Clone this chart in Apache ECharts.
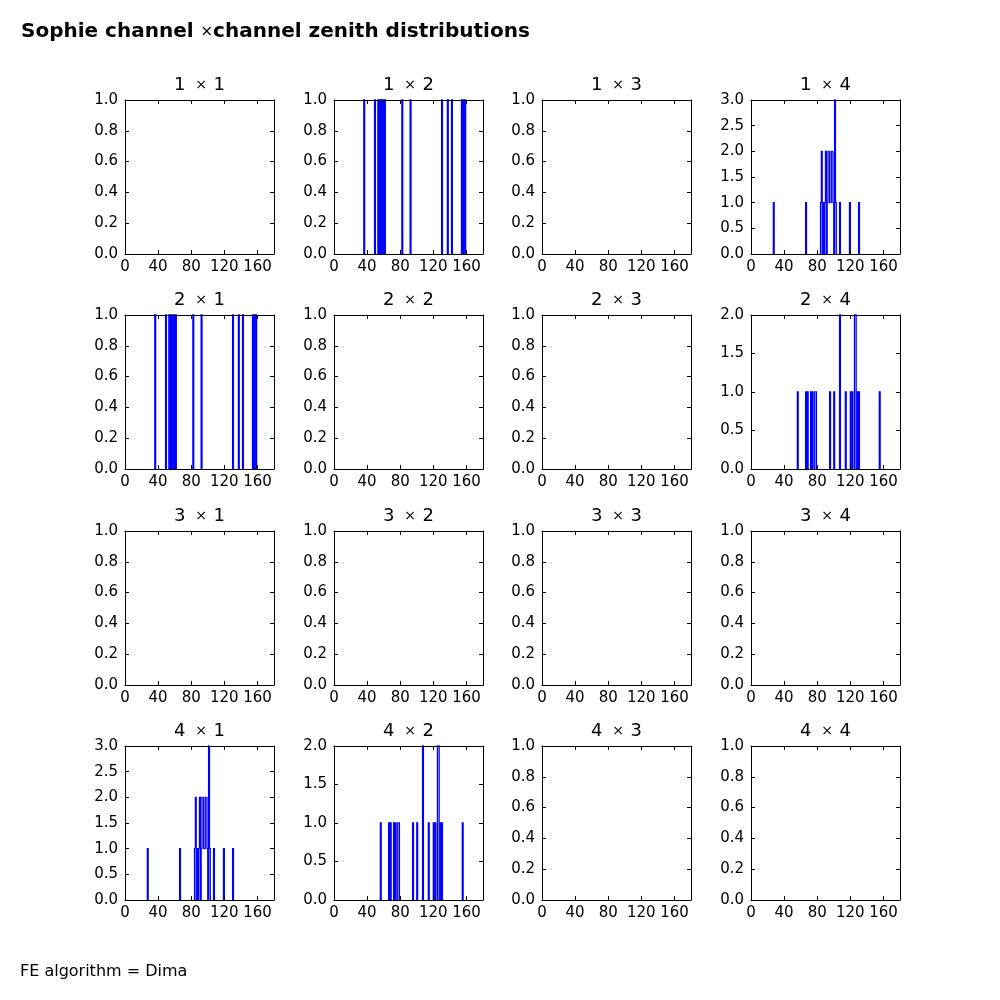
<!DOCTYPE html>
<html>
<head>
<meta charset="utf-8">
<script src="https://cdn.jsdelivr.net/npm/echarts@6/dist/echarts.min.js"></script>
<style>
html,body{margin:0;padding:0;background:#fff;}
#chart{width:1000px;height:1000px;}
</style>
</head>
<body>
<div id="chart"></div>
<script>
// ---- data ----
const channels = [1, 2, 3, 4];
const xTicks = [0, 40, 80, 120, 160];
const xMax = 180;            // zenith range (degrees), 1-degree bins
const yMaxes = [[1, 1, 1, 3], [1, 1, 1, 2], [1, 1, 1, 1], [3, 2, 1, 1]];
const yIntervals = [[0.2, 0.2, 0.2, 0.5], [0.2, 0.2, 0.2, 0.5], [0.2, 0.2, 0.2, 0.2], [0.5, 0.5, 0.2, 0.2]];

// histogram entries: bin start angle (deg) and count
const bins_1x2 = [36, 49, 53, 55, 57, 59, 61, 82, 92, 130, 137, 142, 154, 156, 158];
const counts_1x2 = [1, 1, 1, 1, 1, 1, 1, 1, 1, 1, 1, 1, 1, 1, 1];
const bins_1x4 = [27, 66, 84, 85, 87, 89, 90, 92, 93, 94, 95, 96, 97, 98, 99, 101, 102, 107, 119, 130];
const counts_1x4 = [1, 1, 1, 2, 1, 1, 2, 1, 2, 2, 1, 1, 2, 2, 1, 3, 1, 1, 1, 1];
const bins_2x4 = [56, 66, 68, 72, 74, 77, 78, 95, 100, 107, 114, 120, 122, 125, 126, 128, 130, 155];
const counts_2x4 = [1, 1, 1, 1, 1, 1, 1, 1, 1, 2, 1, 1, 1, 2, 2, 1, 1, 1];

const panelData = {
  '1x2': [bins_1x2, counts_1x2],
  '2x1': [bins_1x2, counts_1x2],
  '1x4': [bins_1x4, counts_1x4],
  '4x1': [bins_1x4, counts_1x4],
  '2x4': [bins_2x4, counts_2x4],
  '4x2': [bins_2x4, counts_2x4]
};

// ---- layout ----
const lefts = [125, 334, 542, 751];
const tops = [100, 315, 531, 746];
const W = 149, H = 154;
const FONT = 'DejaVu Sans';

// one item per non-empty bin: [binStart, count, prevCount, nextCount]
function histItems(bins, counts) {
  const c = new Array(xMax).fill(0);
  bins.forEach((b, i) => { c[b] += counts[i]; });
  const items = [];
  for (let i = 0; i < xMax; i++) {
    if (c[i] <= 0) continue;
    items.push([i, c[i], i > 0 ? c[i - 1] : 0, i < xMax - 1 ? c[i + 1] : 0]);
  }
  return items;
}

function renderStep(params, api) {
  const x = api.value(0), c = api.value(1), p = api.value(2), n = api.value(3);
  const pts = [api.coord([x, p]), api.coord([x, c]), api.coord([x + 1, c])];
  if (n <= 0) pts.push(api.coord([x + 1, 0]));
  return {
    type: 'polyline',
    shape: {points: pts},
    style: {stroke: '#0000ff', lineWidth: 1.3, fill: null}
  };
}

const grid = [], xAxis = [], yAxis = [], series = [], graphic = [];
let g = 0;
for (let r = 0; r < 4; r++) {
  for (let col = 0; col < 4; col++) {
    grid.push({left: lefts[col], top: tops[r], width: W, height: H, show: false});
    const tickStyle = {color: '#000', width: 1};
    const common = {gridIndex: g, type: 'value', min: 0, max: xMax, z: 10,
      axisLine: {show: true, onZero: false, lineStyle: {color: '#000', width: 1}},
      splitLine: {show: false}};
    xAxis.push(Object.assign({}, common, {position: 'bottom',
      axisTick: {show: true, inside: true, length: 4, customValues: xTicks, lineStyle: tickStyle},
      axisLabel: {show: true, customValues: xTicks, fontSize: 15, fontFamily: FONT, color: '#000', margin: 6}}));
    xAxis.push(Object.assign({}, common, {position: 'top',
      axisTick: {show: true, inside: true, length: 4, customValues: xTicks, lineStyle: tickStyle},
      axisLabel: {show: false}}));
    const ymax = yMaxes[r][col], yint = yIntervals[r][col];
    const ycommon = {gridIndex: g, type: 'value', min: 0, max: ymax, interval: yint, z: 10,
      axisLine: {show: true, onZero: false, lineStyle: {color: '#000', width: 1}},
      splitLine: {show: false}};
    yAxis.push(Object.assign({}, ycommon, {position: 'left',
      axisTick: {show: true, inside: true, length: 4, lineStyle: tickStyle},
      axisLabel: {show: true, fontSize: 15, fontFamily: FONT, color: '#000', margin: 7,
        formatter: v => v.toFixed(1)}}));
    yAxis.push(Object.assign({}, ycommon, {position: 'right',
      axisTick: {show: true, inside: true, length: 4, lineStyle: tickStyle},
      axisLabel: {show: false}}));
    const key = channels[r] + 'x' + channels[col];
    const d = panelData[key];
    if (d) {
      series.push({
        type: 'custom', xAxisIndex: 2 * g, yAxisIndex: 2 * g,
        silent: true, z: 2, renderItem: renderStep,
        encode: {x: 0, y: 1},
        data: histItems(d[0], d[1])
      });
    }
    graphic.push({
      type: 'text', x: lefts[col] + W / 2, y: tops[r] - 15,
      style: {
        text: '{n|' + channels[r] + ' }{t|×}{n| ' + channels[col] + '}',
        align: 'center', verticalAlign: 'middle',
        rich: {
          n: {fontSize: 18, fontFamily: FONT, fill: '#000'},
          t: {fontSize: 14, fontFamily: FONT, fill: '#000', padding: [0, 1, 0, 4]}
        }
      }
    });
    g++;
  }
}

graphic.push({
  type: 'text', x: 21, y: 32,
  style: {
    text: '{b|Sophie channel }{t|×}{b|channel zenith distributions}',
    align: 'left', verticalAlign: 'middle',
    rich: {
      b: {fontSize: 20, fontWeight: 'bold', fontFamily: FONT, fill: '#000'},
      t: {fontSize: 15, fontFamily: FONT, fill: '#000'}
    }
  }
});
graphic.push({
  type: 'text', x: 20, y: 972,
  style: {text: 'FE algorithm = Dima', align: 'left', verticalAlign: 'middle',
    fontSize: 16, fontFamily: FONT, fill: '#000'}
});

const chart = echarts.init(document.getElementById('chart'), null, {renderer: 'canvas'});
chart.setOption({
  animation: false,
  backgroundColor: '#ffffff',
  grid, xAxis, yAxis, series, graphic
});
</script>
</body>
</html>
